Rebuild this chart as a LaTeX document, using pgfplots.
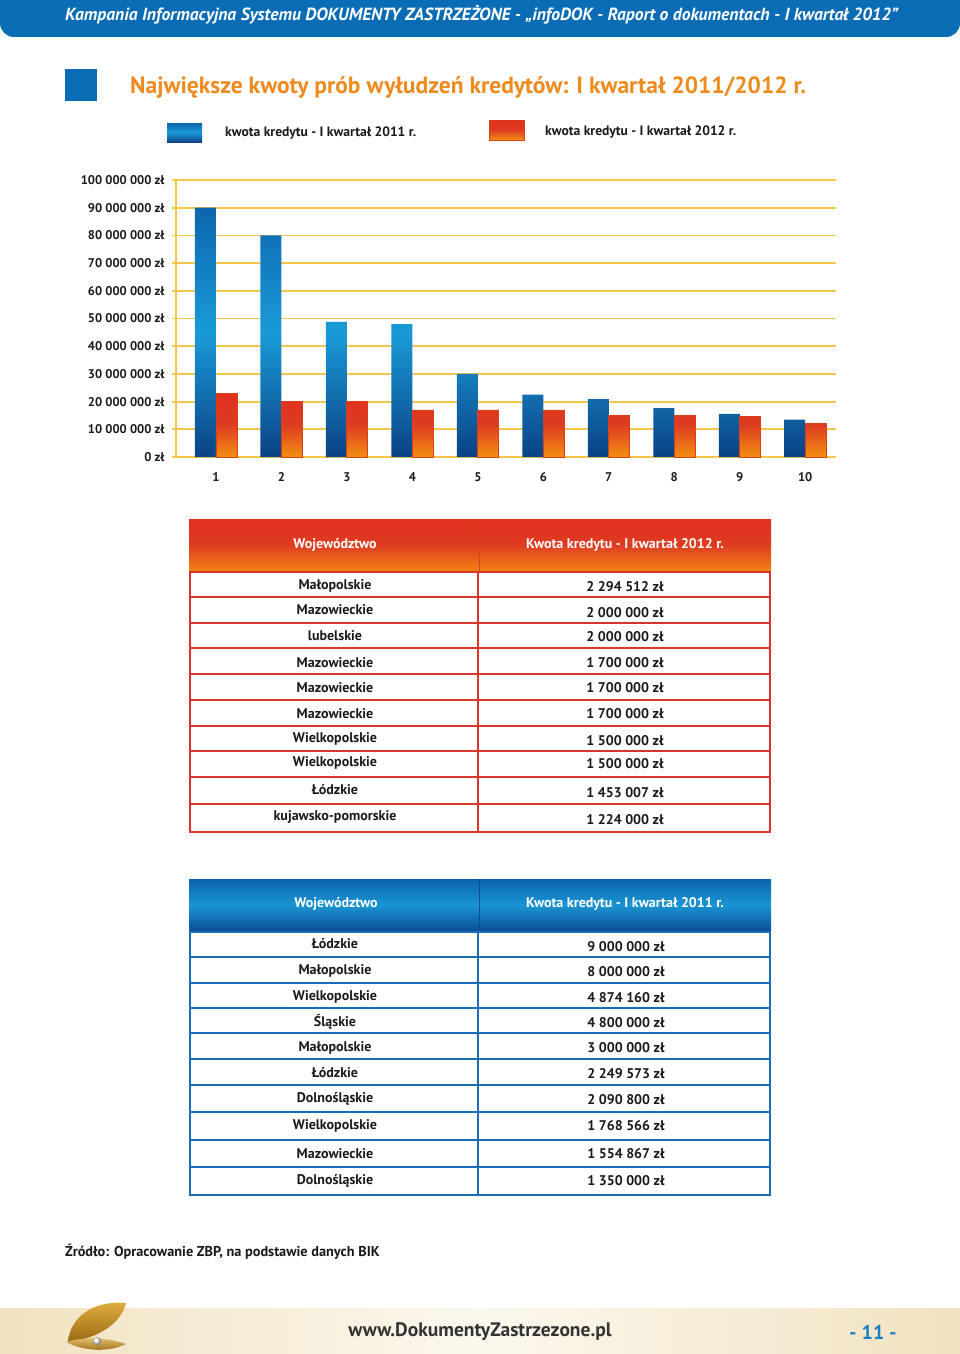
\documentclass[border=0pt]{standalone}
\usepackage{fontspec}
\setmainfont{PT Sans}
\usepackage{pgfplots}
\usepackage{pgfplotstable}
\pgfplotsset{compat=1.18}
\definecolor{hb}{HTML}{0A6CB4}
\definecolor{gridy}{HTML}{F6C64A}
\definecolor{bt}{HTML}{0C66AE}
\definecolor{bm}{HTML}{1A9BD8}
\definecolor{bb}{HTML}{0A4285}
\definecolor{rt}{HTML}{E0301E}
\definecolor{rm}{HTML}{DE3C22}
\definecolor{rb}{HTML}{F39010}
\definecolor{ro}{HTML}{F28312}
\definecolor{redge}{HTML}{D8401C}
\definecolor{tred}{HTML}{D9352A}
\definecolor{tblue}{HTML}{1A6DB5}
\definecolor{ht}{HTML}{0B63AE}
\definecolor{hm}{HTML}{1A95D3}
\definecolor{hbb}{HTML}{0A4D96}
\definecolor{ttl}{HTML}{EE8A1E}
\definecolor{pgblue}{HTML}{1A7CC2}
\definecolor{beige}{HTML}{F1E2C0}
\definecolor{cream}{HTML}{FCF8EE}
\definecolor{gold}{HTML}{E2B040}
\definecolor{golddk}{HTML}{9C6A12}
\definecolor{txt}{HTML}{1A1A1A}

\pgfplotstableread{
x y
1 90000000
2 80000000
3 48741600
4 48000000
5 30000000
6 22495730
7 20908000
8 17685660
9 15548670
10 13500000
}\bluedata
\pgfplotstableread{
x y
1 22945120
2 20000000
3 20000000
4 17000000
5 17000000
6 17000000
7 15000000
8 15000000
9 14530070
10 12240000
}\reddata

\newcommand{\tf}{\fontsize{14}{16}\selectfont\bfseries}
\newcommand{\lf}{\fontsize{13.6}{15}\selectfont\bfseries}

\begin{document}
\begin{tikzpicture}
\begin{scope}[x=1pt,y=-1pt]
\fill[white] (0,0) rectangle (960,1354);
% header bar
\fill[hb, rounded corners=14pt, overlay] (0,-30) rectangle (960,37);
\node[anchor=west, text=white, inner sep=0pt] at (65,15) {\fontsize{17.6}{18}\selectfont\bfseries\itshape Kampania Informacyjna Systemu DOKUMENTY ZASTRZEŻONE - „infoDOK - Raport o dokumentach - I kwartał 2012”};
% title
\fill[hb] (65,69) rectangle (97,101);
\node[anchor=west, text=ttl, inner sep=0pt] at (130,87) {\fontsize{23.5}{25}\selectfont\bfseries Największe kwoty prób wyłudzeń kredytów: I kwartał 2011/2012 r.};
% legend
\shade[top color=bt, bottom color=bb, middle color=bm] (167,123) rectangle (202,142);
\node[anchor=west, inner sep=0pt, text=txt] at (225,133) {\lf kwota kredytu - I kwartał 2011 r.};
\shade[top color=rt, bottom color=rb, middle color=rm, draw=redge] (489,120) rectangle (524,140);
\node[anchor=west, inner sep=0pt, text=txt] at (545,132) {\lf kwota kredytu - I kwartał 2012 r.};

% ---------- red table ----------
\shade[top color=rt, bottom color=ro, middle color=rm] (189,519) rectangle (771,571);
\draw[redge, line width=1pt] (479,519) -- (479,571);
\node[text=white, inner sep=0pt] at (335,545) {\tf Województwo};
\node[text=white, inner sep=0pt] at (625,545) {\tf Kwota kredytu - I kwartał 2012 r.};
\draw[tred, line width=2.6pt] (190,572) rectangle (770,832);
\draw[tred, line width=2.6pt] (478,572) -- (478,832);
\foreach \yy in {597,623,648,674,700,726,751,777,804}
  \draw[tred, line width=2.2pt] (190,\yy) -- (770,\yy);
\foreach \yy/\t in {586/Małopolskie,610/Mazowieckie,636/lubelskie,663/Mazowieckie,688/Mazowieckie,714/Mazowieckie,739/Wielkopolskie,763/Wielkopolskie,790/Łódzkie,817/kujawsko-pomorskie}
  \node[inner sep=0pt, text=txt] at (335,\yy) {\tf \t};
\foreach \yy/\t in {587/2 294 512 zł,613/2 000 000 zł,637/2 000 000 zł,663/1 700 000 zł,688/1 700 000 zł,714/1 700 000 zł,741/1 500 000 zł,764/1 500 000 zł,793/1 453 007 zł,820/1 224 000 zł}
  \node[inner sep=0pt, text=txt] at (625,\yy) {\tf \t};

% ---------- blue table ----------
\shade[top color=ht, bottom color=hbb, middle color=hm] (189,879) rectangle (771,931);
\draw[hbb, line width=1pt] (479,879) -- (479,931);
\node[text=white, inner sep=0pt] at (336,904) {\tf Województwo};
\node[text=white, inner sep=0pt] at (625,904) {\tf Kwota kredytu - I kwartał 2011 r.};
\draw[tblue, line width=2.6pt] (190,932) rectangle (770,1195);
\draw[tblue, line width=2.6pt] (478,932) -- (478,1195);
\foreach \yy in {957,983,1008,1033,1059,1085,1112,1140,1167}
  \draw[tblue, line width=2.2pt] (190,\yy) -- (770,\yy);
\foreach \yy/\t in {944/Łódzkie,971/Małopolskie,997/Wielkopolskie,1022/Śląskie,1048/Małopolskie,1073/Łódzkie,1099/Dolnośląskie,1126/Wielkopolskie,1154/Mazowieckie,1181/Dolnośląskie}
  \node[inner sep=0pt, text=txt] at (335,\yy) {\tf \t};
\foreach \yy/\t in {947/9 000 000 zł,972/8 000 000 zł,998/4 874 160 zł,1023/4 800 000 zł,1048/3 000 000 zł,1074/2 249 573 zł,1100/2 090 800 zł,1126/1 768 566 zł,1154/1 554 867 zł,1181/1 350 000 zł}
  \node[inner sep=0pt, text=txt] at (626,\yy) {\tf \t};

% source
\node[anchor=west, inner sep=0pt, text=txt] at (65,1252) {\fontsize{14.3}{16}\selectfont\bfseries Źródło: Opracowanie ZBP, na podstawie danych BIK};

% footer
\shade[left color=beige, right color=beige, middle color=cream] (0,1308) rectangle (960,1354);
\node[inner sep=0pt, text=black!80] at (480,1332) {\fontsize{19.5}{20}\selectfont\bfseries www.DokumentyZastrzezone.pl};
\node[inner sep=0pt, text=pgblue] at (873,1332) {\fontsize{20}{22}\selectfont\bfseries - 11 -};
% shell
\shade[top color=gold, bottom color=golddk] (68,1342) .. controls (70,1318) and (92,1300) .. (126,1303) .. controls (122,1320) and (105,1334) .. (80,1340) -- cycle;
\shade[top color=gold!70!white, bottom color=golddk] (66,1342) .. controls (85,1336) and (110,1338) .. (126,1344) .. controls (110,1352) and (85,1352) .. (66,1342) -- cycle;
\shade[ball color=white] (97,1341) circle (4);
\end{scope}

\begin{axis}[
  at={(176pt,-457pt)}, anchor=south west,
  scale only axis, width=660pt, height=277pt,
  xmin=0.39, xmax=10.47, ymin=0, ymax=100000000,
  ybar=0pt, bar width=21pt,
  axis lines*=left,
  axis line style={draw=gridy, line width=1.8pt},
  ymajorgrids, grid style={draw=gridy, line width=1.8pt},
  ytick={0,10000000,20000000,30000000,40000000,50000000,60000000,70000000,80000000,90000000,100000000},
  yticklabels={0 zł,10 000 000 zł,20 000 000 zł,30 000 000 zł,40 000 000 zł,50 000 000 zł,60 000 000 zł,70 000 000 zł,80 000 000 zł,90 000 000 zł,100 000 000 zł},
  xtick={1,2,3,4,5,6,7,8,9,10},
  xticklabels={1,2,3,4,5,6,7,8,9,10},
  x tick style={draw=none},
  y tick style={draw=gridy, line width=1.8pt},
  tick align=outside, major tick length=4pt,
  ticklabel style={font=\fontsize{12.6}{14}\selectfont\bfseries, text=txt},
  yticklabel style={xshift=-4pt},
  xticklabel style={yshift=-8pt},
  scaled y ticks=false,
]
\addplot[draw=none, top color=bt, bottom color=bb, middle color=bm] table {\bluedata};
\addplot[draw=redge, line width=0.8pt, top color=rt, bottom color=rb, middle color=rm] table {\reddata};
\end{axis}
\end{tikzpicture}
\end{document}
